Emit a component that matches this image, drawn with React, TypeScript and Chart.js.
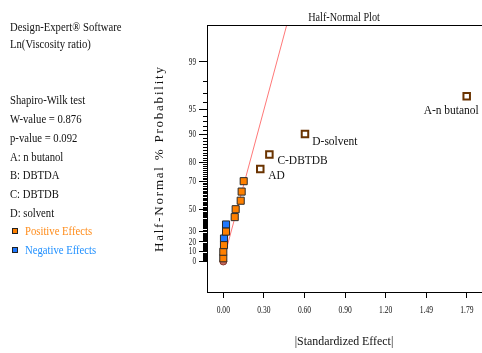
import React, { useEffect, useRef } from "react";
import { Chart, registerables } from "chart.js";

Chart.register(...registerables);

// ---- data (|standardized effect|, half-normal % probability) ----
const POS_X = [0.0, 0.0, 0.005, 0.02, 0.084, 0.091, 0.128, 0.135, 0.15];
const POS_P = [3.3, 10.0, 16.7, 30.0, 43.3, 50.0, 56.7, 63.3, 70.0];
const NEG_X = [0.005, 0.02];
const NEG_P = [23.3, 36.7];
const LABELED_NAMES = ["AD", "C-DBTDB", "D-solvent", "A-n butanol"];
const LABELED_X = [0.272, 0.339, 0.601, 1.791];
const LABELED_P = [76.7, 83.3, 90.0, 96.7];
const ERR_X = [0.0];
const ERR_P = [0.0];
const LINE_X = [0.025, 0.48];
const LINE_P = [13.8, 99.83];

const X_TICK_VALUES = [0, 0.2988, 0.5976, 0.8964, 1.1952, 1.494, 1.7928];
const X_TICK_LABELS = ["0.00", "0.30", "0.60", "0.90", "1.20", "1.49", "1.79"];
const Y_MAJOR_PCT = [0, 10, 20, 30, 50, 70, 80, 90, 95, 99];
const Y_MAJOR_LABELS = ["0", "10", "20", "30", "50", "70", "80", "90", "95", "99"];
const Y_MINOR_PCT = Array.from({ length: 99 }, (_, i) => i).filter((v) => !Y_MAJOR_PCT.includes(v));

const LEFT_LINES = [
  { t: "Design-Expert® Software", y: 27 },
  { t: "Ln(Viscosity ratio)", y: 44 },
  { t: "Shapiro-Wilk test", y: 100 },
  { t: "W-value = 0.876", y: 119 },
  { t: "p-value = 0.092", y: 138 },
  { t: "A: n butanol", y: 157 },
  { t: "B: DBTDA", y: 175.5 },
  { t: "C: DBTDB", y: 194 },
  { t: "D: solvent", y: 213 },
];

const SERIF = "'Liberation Serif', 'Times New Roman', serif";
const ORANGE = "#ff8000";
const BLUE = "#1e78ff";

// inverse standard normal CDF (Acklam)
function invNorm(p: number): number {
  if (p <= 0) return -Infinity;
  if (p >= 1) return Infinity;
  const a = [-3.969683028665376e1, 2.209460984245205e2, -2.759285104469687e2, 1.38357751867269e2, -3.066479806614716e1, 2.506628277459239];
  const b = [-5.447609879822406e1, 1.615858368580409e2, -1.556989798598866e2, 6.680131188771972e1, -1.328068155288572e1];
  const c = [-7.784894002430293e-3, -3.223964580411365e-1, -2.400758277161838, -2.549732539343734, 4.374664141464968, 2.938163982698783];
  const d = [7.784695709041462e-3, 3.224671290700398e-1, 2.445134137142996, 3.754408661907416];
  const pl = 0.02425;
  let q, r;
  if (p < pl) {
    q = Math.sqrt(-2 * Math.log(p));
    return (((((c[0] * q + c[1]) * q + c[2]) * q + c[3]) * q + c[4]) * q + c[5]) / ((((d[0] * q + d[1]) * q + d[2]) * q + d[3]) * q + 1);
  } else if (p <= 1 - pl) {
    q = p - 0.5;
    r = q * q;
    return ((((((a[0] * r + a[1]) * r + a[2]) * r + a[3]) * r + a[4]) * r + a[5]) * q) / (((((b[0] * r + b[1]) * r + b[2]) * r + b[3]) * r + b[4]) * r + 1);
  }
  q = Math.sqrt(-2 * Math.log(1 - p));
  return -(((((c[0] * q + c[1]) * q + c[2]) * q + c[3]) * q + c[4]) * q + c[5]) / ((((d[0] * q + d[1]) * q + d[2]) * q + d[3]) * q + 1);
}
// half-normal probability scale transform
const hz = (pct: number) => (pct <= 0 ? 0 : invNorm(0.5 + pct / 200));

const pts = (xs: number[], ps: number[]) => xs.map((x, i) => ({ x, y: hz(ps[i]) }));

function txt(ctx: CanvasRenderingContext2D, s: string, x: number, y: number, size: number, sx: number, align: CanvasTextAlign, color = "#111") {
  ctx.save();
  ctx.font = `${size}px ${SERIF}`;
  ctx.fillStyle = color;
  ctx.textBaseline = "middle";
  ctx.textAlign = align;
  ctx.translate(x, y);
  ctx.scale(sx, 1);
  ctx.fillText(s, 0, 0);
  ctx.restore();
}

const decorPlugin = {
  id: "decor",
  afterDraw(chart: any) {
    const ctx: CanvasRenderingContext2D = chart.ctx;
    const { left, right, top } = chart.chartArea;
    const xs = chart.scales.x;
    const ys = chart.scales.y;
    ctx.save();
    // top border
    ctx.strokeStyle = "#000";
    ctx.lineWidth = 1;
    ctx.beginPath();
    ctx.moveTo(left, top + 0.5);
    ctx.lineTo(right, top + 0.5);
    ctx.stroke();
    // minor y ticks
    ctx.beginPath();
    Y_MINOR_PCT.forEach((p) => {
      const y = Math.round(ys.getPixelForValue(hz(p))) + 0.5;
      ctx.moveTo(left - 4, y);
      ctx.lineTo(left, y);
    });
    ctx.stroke();
    ctx.restore();

    // y tick labels
    Y_MAJOR_PCT.forEach((p, i) => {
      txt(ctx, Y_MAJOR_LABELS[i], 196, ys.getPixelForValue(hz(p)), 10.5, 0.68, "right");
    });
    // x tick labels
    X_TICK_VALUES.forEach((v, i) => {
      txt(ctx, X_TICK_LABELS[i], xs.getPixelForValue(v), 310.5, 10.5, 0.72, "center");
    });
    // titles
    txt(ctx, "Half-Normal Plot", 344, 17.5, 12, 0.85, "center");
    txt(ctx, "|Standardized Effect|", 344, 341, 13.5, 0.88, "center");
    // y title rotated with letter spacing
    ctx.save();
    ctx.font = `13px ${SERIF}`;
    const ytitle = "Half-Normal % Probability";
    const w0 = ctx.measureText(ytitle).width;
    const spacing = Math.max(0, (185 - w0) / (ytitle.length - 1));
    (ctx as any).letterSpacing = `${spacing.toFixed(2)}px`;
    ctx.translate(160, 159.5);
    ctx.rotate(-Math.PI / 2);
    ctx.fillStyle = "#111";
    ctx.textAlign = "left";
    ctx.textBaseline = "middle";
    ctx.fillText(ytitle, -92.5, 0);
    ctx.restore();

    // left panel
    LEFT_LINES.forEach((l) => txt(ctx, l.t, 10, l.y, 13.5, 0.79, "left"));
    ctx.save();
    ctx.strokeStyle = "#222";
    ctx.lineWidth = 1;
    ctx.fillStyle = ORANGE;
    ctx.fillRect(12, 228, 6, 6);
    ctx.strokeRect(12.5, 228.5, 5, 5);
    ctx.fillStyle = BLUE;
    ctx.fillRect(12, 247, 6, 6);
    ctx.strokeRect(12.5, 247.5, 5, 5);
    ctx.restore();
    txt(ctx, "Positive Effects", 25, 231, 13.5, 0.79, "left", "#ff8c1a");
    txt(ctx, "Negative Effects", 25, 250, 13.5, 0.79, "left", "#1e8fff");

    // point labels
    const offs = [
      [8, 6.7, "left"],
      [8, 6, "left"],
      [7.3, 7.7, "left"],
      [-15.5, 14, "center"],
    ];
    LABELED_NAMES.forEach((n, i) => {
      const px = xs.getPixelForValue(LABELED_X[i]);
      const py = ys.getPixelForValue(hz(LABELED_P[i]));
      const o = offs[i];
      txt(ctx, n, px + (o[0] as number), py + (o[1] as number), 13.5, 0.85, o[2] as CanvasTextAlign);
    });
  },
};

const zeroPad = (s: any) => {
  s.paddingLeft = 0;
  s.paddingRight = 0;
  s.paddingTop = 0;
  s.paddingBottom = 0;
};

export default function App() {
  const ref = useRef<HTMLCanvasElement>(null);
  useEffect(() => {
    if (!ref.current) return;
    const chart = new Chart(ref.current, {
      type: "scatter",
      data: {
        datasets: [
          {
            label: "labeled",
            data: pts(LABELED_X, LABELED_P),
            pointStyle: "rect",
            pointRadius: 4.6,
            pointBackgroundColor: "#ffffff",
            pointBorderColor: "#6a3300",
            pointBorderWidth: 2,
            order: 0,
          },
          {
            label: "positive",
            data: pts(POS_X, POS_P),
            pointStyle: "rect",
            pointRadius: 5,
            pointBackgroundColor: ORANGE,
            pointBorderColor: "#2a2a2a",
            pointBorderWidth: 1,
            order: 1,
          },
          {
            label: "negative",
            data: pts(NEG_X, NEG_P),
            pointStyle: "rect",
            pointRadius: 5,
            pointBackgroundColor: BLUE,
            pointBorderColor: "#2a2a2a",
            pointBorderWidth: 1,
            order: 1,
          },
          {
            label: "line",
            type: "line",
            data: pts(LINE_X, LINE_P),
            borderColor: "#ff7878",
            borderWidth: 1,
            pointRadius: 0,
            fill: false,
            order: 5,
          } as any,
          {
            label: "error",
            data: pts(ERR_X, ERR_P),
            pointStyle: "circle",
            pointRadius: 3.5,
            pointBackgroundColor: "#c86a5a",
            pointBorderColor: "#8a3a30",
            pointBorderWidth: 1,
            order: 10,
          },
        ],
      },
      options: {
        animation: false,
        responsive: false,
        devicePixelRatio: 1,
        layout: { autoPadding: false, padding: { top: 25, right: 0, left: 0, bottom: 0 } },
        plugins: { legend: { display: false }, tooltip: { enabled: false }, title: { display: false } },
        scales: {
          x: {
            type: "linear",
            min: -0.12,
            max: 1.9036,
            afterBuildTicks: (s: any) => {
              s.ticks = X_TICK_VALUES.map((v) => ({ value: v }));
            },
            afterFit: (s: any) => {
              s.height = 61;
              zeroPad(s);
            },
            ticks: { display: false },
            grid: { drawOnChartArea: false, drawTicks: true, tickLength: 6, color: "#000", lineWidth: 1 },
            border: { display: true, color: "#000", width: 1 },
          },
          y: {
            type: "linear",
            min: -0.394,
            max: 3.052,
            afterBuildTicks: (s: any) => {
              s.ticks = Y_MAJOR_PCT.map((p) => ({ value: hz(p) }));
            },
            afterFit: (s: any) => {
              s.width = 207;
              zeroPad(s);
            },
            ticks: { display: false },
            grid: { drawOnChartArea: false, drawTicks: true, tickLength: 8, color: "#000", lineWidth: 1 },
            border: { display: true, color: "#000", width: 1 },
          },
        },
      },
      plugins: [decorPlugin],
    });
    return () => chart.destroy();
  }, []);
  return (
    <div style={{ position: "absolute", left: 0, top: 0, width: 482, height: 353, background: "#fff" }}>
      <canvas ref={ref} width={482} height={353} style={{ display: "block", width: 482, height: 353 }} />
    </div>
  );
}
